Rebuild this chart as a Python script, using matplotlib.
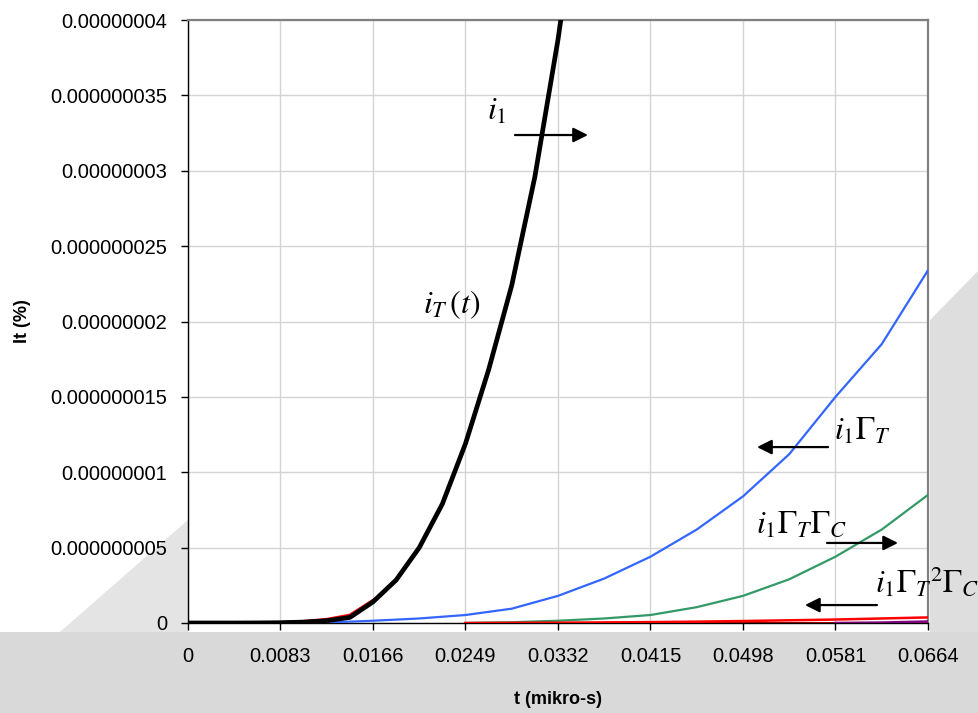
import matplotlib
matplotlib.use("Agg")
import matplotlib.pyplot as plt
from matplotlib.ticker import FuncFormatter, FixedLocator
from matplotlib.patches import Polygon

plt.rcParams['font.family'] = ['Liberation Sans', 'DejaVu Sans']
plt.rcParams['mathtext.fontset'] = 'stix'

# time samples (mikro-s)
t_all = [0.0, 0.002075, 0.00415, 0.006225, 0.0083, 0.010375, 0.01245, 0.014525,
         0.0166, 0.018675, 0.02075, 0.022825, 0.0249, 0.026975, 0.02905, 0.031125,
         0.0332, 0.035275]
# transmitted current i_T(t)
i_T = [0.0, 0.0, 0.0, 0.005e-9, 0.02e-9, 0.06e-9, 0.15e-9, 0.37e-9,
       1.4e-9, 2.85e-9, 5.0e-9, 7.9e-9, 11.9e-9, 16.8e-9, 22.4e-9, 29.6e-9,
       38.7e-9, 49.5e-9]

# incident component i_1 (early part)
t_i1 = [0.0083, 0.010375, 0.01245, 0.014525, 0.0166]
i_1 = [0.03e-9, 0.1e-9, 0.24e-9, 0.52e-9, 1.5e-9]

# reflected components
t_half = [0.0083, 0.01245, 0.0166, 0.02075, 0.0249, 0.02905, 0.0332, 0.03735,
          0.0415, 0.04565, 0.0498, 0.05395, 0.0581, 0.06225, 0.0664]
i1_GT = [0.0, 0.03e-9, 0.15e-9, 0.3e-9, 0.53e-9, 0.95e-9, 1.8e-9, 2.95e-9,
         4.4e-9, 6.2e-9, 8.4e-9, 11.2e-9, 15.0e-9, 18.5e-9, 23.4e-9]

t_late = [0.0249, 0.02905, 0.0332, 0.03735, 0.0415, 0.04565, 0.0498, 0.05395,
          0.0581, 0.06225, 0.0664]
i1_GT_GC = [0.0, 0.05e-9, 0.15e-9, 0.3e-9, 0.53e-9, 1.05e-9, 1.8e-9, 2.9e-9,
            4.4e-9, 6.2e-9, 8.5e-9]
i1_GT2_GC = [0.0, 0.01e-9, 0.02e-9, 0.04e-9, 0.06e-9, 0.09e-9, 0.13e-9,
             0.18e-9, 0.23e-9, 0.3e-9, 0.37e-9]

t_tail = [0.0415, 0.0498, 0.0581, 0.0664]
tail_a = [0.0, 0.0, 0.0, 0.0]
t_tail2 = [0.0581, 0.06225, 0.0664]
tail_b = [0.0, 0.03e-9, 0.1e-9]

x_ticks = [0, 0.0083, 0.0166, 0.0249, 0.0332, 0.0415, 0.0498, 0.0581, 0.0664]
x_tick_labels = ['0', '0.0083', '0.0166', '0.0249', '0.0332', '0.0415',
                 '0.0498', '0.0581', '0.0664']
y_ticks = [0, 5e-9, 10e-9, 15e-9, 20e-9, 25e-9, 30e-9, 35e-9, 40e-9]

fig = plt.figure(figsize=(9.79, 7.13), dpi=100)
fig.patch.set_facecolor('white')

# soft background shading around the plot area
W, H = 979, 713
def fpoly(pts, color):
    p = Polygon([(x / W, 1 - y / H) for x, y in pts], closed=True,
                transform=fig.transFigure, facecolor=color, edgecolor='none',
                zorder=-10)
    fig.patches.append(p)

fpoly([(0, 632), (979, 632), (979, 713), (0, 713)], '#d9d9d9')
fpoly([(930, 320), (979, 270), (979, 632), (930, 632)], '#dedede')
fpoly([(60, 632), (188, 520), (188, 632)], '#e4e4e4')

ax = fig.add_axes([188 / W, 1 - 623 / H, 740 / W, 603 / H])
ax.set_facecolor('white')

ax.plot(t_i1, i_1, color='#ff0000', lw=2.2, zorder=3)
ax.plot(t_half, i1_GT, color='#3366ff', lw=1.6, zorder=3)
ax.plot(t_late, i1_GT_GC, color='#339966', lw=1.6, zorder=3)
ax.plot(t_late, [0.0] * len(t_late), color='#ff0000', lw=2.2, zorder=3)
ax.plot(t_tail, tail_a, color='#800000', lw=2.0, zorder=3)
ax.plot(t_late, i1_GT2_GC, color='#ff0000', lw=1.8, zorder=3)
ax.plot(t_tail2, tail_b, color='#800080', lw=1.8, zorder=3)
ax.plot(t_all, i_T, color='black', lw=3.4, zorder=4, solid_joinstyle='round')

ax.set_xlim(0, 0.0664)
ax.set_ylim(0, 4e-8)
ax.xaxis.set_major_locator(FixedLocator(x_ticks))
ax.set_xticklabels(x_tick_labels)
ax.yaxis.set_major_locator(FixedLocator(y_ticks))

def yfmt(v, pos):
    if v == 0:
        return '0'
    return f'{v:.9f}'.rstrip('0')
ax.yaxis.set_major_formatter(FuncFormatter(yfmt))

ax.grid(True, color='#d4d4d4', lw=1.0, zorder=0)
ax.set_axisbelow(True)
for side in ('top', 'right'):
    ax.spines[side].set_color('#808080')
    ax.spines[side].set_linewidth(1.6)
for side in ('left', 'bottom'):
    ax.spines[side].set_color('black')
    ax.spines[side].set_linewidth(1.0)
ax.tick_params(axis='both', direction='out', length=5, width=1, color='black',
               labelsize=14.5)
ax.tick_params(axis='x', pad=12)
ax.tick_params(axis='y', pad=10)

ax.set_xlabel('t (mikro-s)', fontsize=13, fontweight='bold', labelpad=18)
ax.set_ylabel('It (%)', fontsize=13, fontweight='bold', labelpad=14)

# curve labels and arrows
mfs = 23
arrow_kw = dict(arrowstyle='-|>', color='black', lw=1.6, mutation_scale=22,
                shrinkA=0, shrinkB=0)
ax.text(0.02773, 3.39e-8, r'$i_1$', fontsize=mfs, ha='center', va='center')
ax.annotate('', xy=(0.03589, 3.237e-8), xytext=(0.02934, 3.237e-8),
            arrowprops=arrow_kw)
ax.text(0.02369, 2.109e-8, r'$i_T\,(t)$', fontsize=mfs, ha='center', va='center')
ax.text(0.06048, 1.267e-8, r'$i_1\Gamma_T$', fontsize=mfs, ha='center', va='center')
ax.annotate('', xy=(0.05106, 1.167e-8), xytext=(0.05743, 1.167e-8),
            arrowprops=arrow_kw)
ax.text(0.0551, 0.65e-8, r'$i_1\Gamma_T\Gamma_C$', fontsize=mfs, ha='center',
        va='center')
ax.annotate('', xy=(0.06371, 0.531e-8), xytext=(0.05734, 0.531e-8),
            arrowprops=arrow_kw)
ax.text(0.06631, 0.265e-8, r'$i_1{\Gamma_T}^{2}\Gamma_C$', fontsize=mfs,
        ha='center', va='center', clip_on=False)
ax.annotate('', xy=(0.05536, 0.119e-8), xytext=(0.06182, 0.119e-8),
            arrowprops=arrow_kw)

fig.savefig('out.png', dpi=100, facecolor=fig.get_facecolor())
